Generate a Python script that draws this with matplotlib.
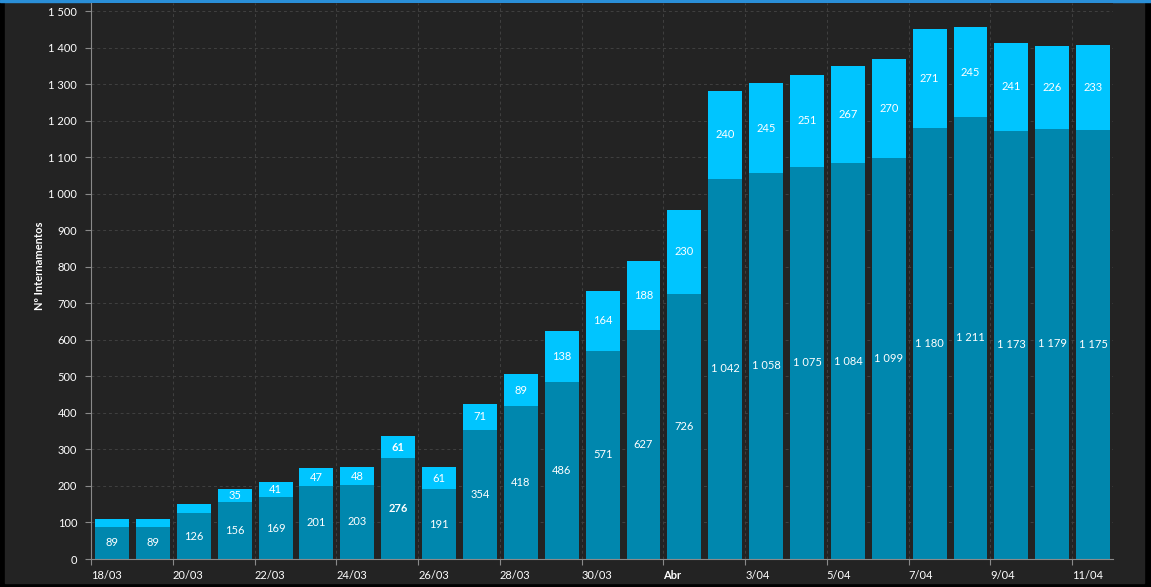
#!/usr/bin/env python3

import matplotlib
matplotlib.use("Agg")
import matplotlib.pyplot as plt
from matplotlib.patches import Rectangle

# Internamentos por dia (enfermaria + cuidados intensivos)
days = ["18/03", "19/03", "20/03", "21/03", "22/03", "23/03", "24/03", "25/03",
        "26/03", "27/03", "28/03", "29/03", "30/03", "31/03", "1/04", "2/04",
        "3/04", "4/04", "5/04", "6/04", "7/04", "8/04", "9/04", "10/04", "11/04"]
ward = [89, 89, 126, 156, 169, 201, 203, 276, 191, 354, 418, 486, 571, 627,
        726, 1042, 1058, 1075, 1084, 1099, 1180, 1211, 1173, 1179, 1175]
icu = [20, 20, 26, 35, 41, 47, 48, 61, 61, 71, 89, 138, 164, 188, 230, 240,
       245, 251, 267, 270, 271, 245, 241, 226, 233]
tick_labels = ["18/03", "20/03", "22/03", "24/03", "26/03", "28/03", "30/03",
               "Abr", "3/04", "5/04", "7/04", "9/04", "11/04"]

BG = "#232323"
DARK = "#0087ae"
LIGHT = "#00c5ff"
FS = 8

plt.rcParams['font.family'] = ['Lato', 'DejaVu Sans']

W, H = 1151, 587
fig = plt.figure(figsize=(W / 100, H / 100), dpi=100, facecolor="black")
# dark panel with a blue line on top
fig.add_artist(Rectangle((5 / W, 4 / H), 1139 / W, 581 / H,
                         transform=fig.transFigure, color=BG, zorder=-2))
fig.add_artist(Rectangle((0, 1 - 2 / H), 1, 2 / H,
                         transform=fig.transFigure, color="#2a8fd8", zorder=-1))

ax = fig.add_axes([91 / W, 28 / H, (1113 - 91) / W, (559 - 3) / H])
ax.set_facecolor(BG)

x = [i + 0.1 for i in range(len(days))]
ax.bar(x, ward, width=0.83, align="edge", color=DARK, zorder=2)
ax.bar(x, icu, width=0.83, align="edge", bottom=ward, color=LIGHT, zorder=2)

for i in range(len(days)):
    cx = x[i] + 0.415
    weight = "bold" if i == 7 else "normal"
    ax.text(cx, ward[i] / 2, f"{ward[i]:,}".replace(",", " "), color="white",
            ha="center", va="center", fontsize=FS, fontweight=weight, zorder=3)
    if icu[i] >= 30:
        ax.text(cx, ward[i] + icu[i] / 2, str(icu[i]), color="white",
                ha="center", va="center", fontsize=FS, fontweight=weight, zorder=3)

ax.set_xlim(0, len(days))
ax.set_ylim(0, 1523)

yt = list(range(0, 1501, 100))
ax.set_yticks(yt)
ax.set_yticklabels([f"{v:,}".replace(",", " ") for v in yt])
ax.set_xticks(list(range(0, len(days), 2)))
ax.set_xticklabels(tick_labels, ha="left")
for lab in ax.get_xticklabels():
    if lab.get_text() == "Abr":
        lab.set_fontweight("bold")

ax.tick_params(axis="both", colors="#8a8a8a", labelcolor="white",
               labelsize=FS, length=4, width=0.8)
ax.tick_params(axis="x", pad=4)
ax.tick_params(axis="y", pad=6)

ax.grid(True, color="#404040", linestyle=(0, (3, 3)), linewidth=0.7, zorder=0)
for side in ["top", "right"]:
    ax.spines[side].set_visible(False)
for side in ["left", "bottom"]:
    ax.spines[side].set_color("#8a8a8a")
    ax.spines[side].set_linewidth(0.8)

ax.set_ylabel("Nº Internamentos", color="white", fontsize=FS,
              fontweight="bold", labelpad=2)
ax.yaxis.set_label_coords(-46 / (1113 - 91), 0.527)

fig.savefig("out.png", dpi=100, facecolor=fig.get_facecolor())
